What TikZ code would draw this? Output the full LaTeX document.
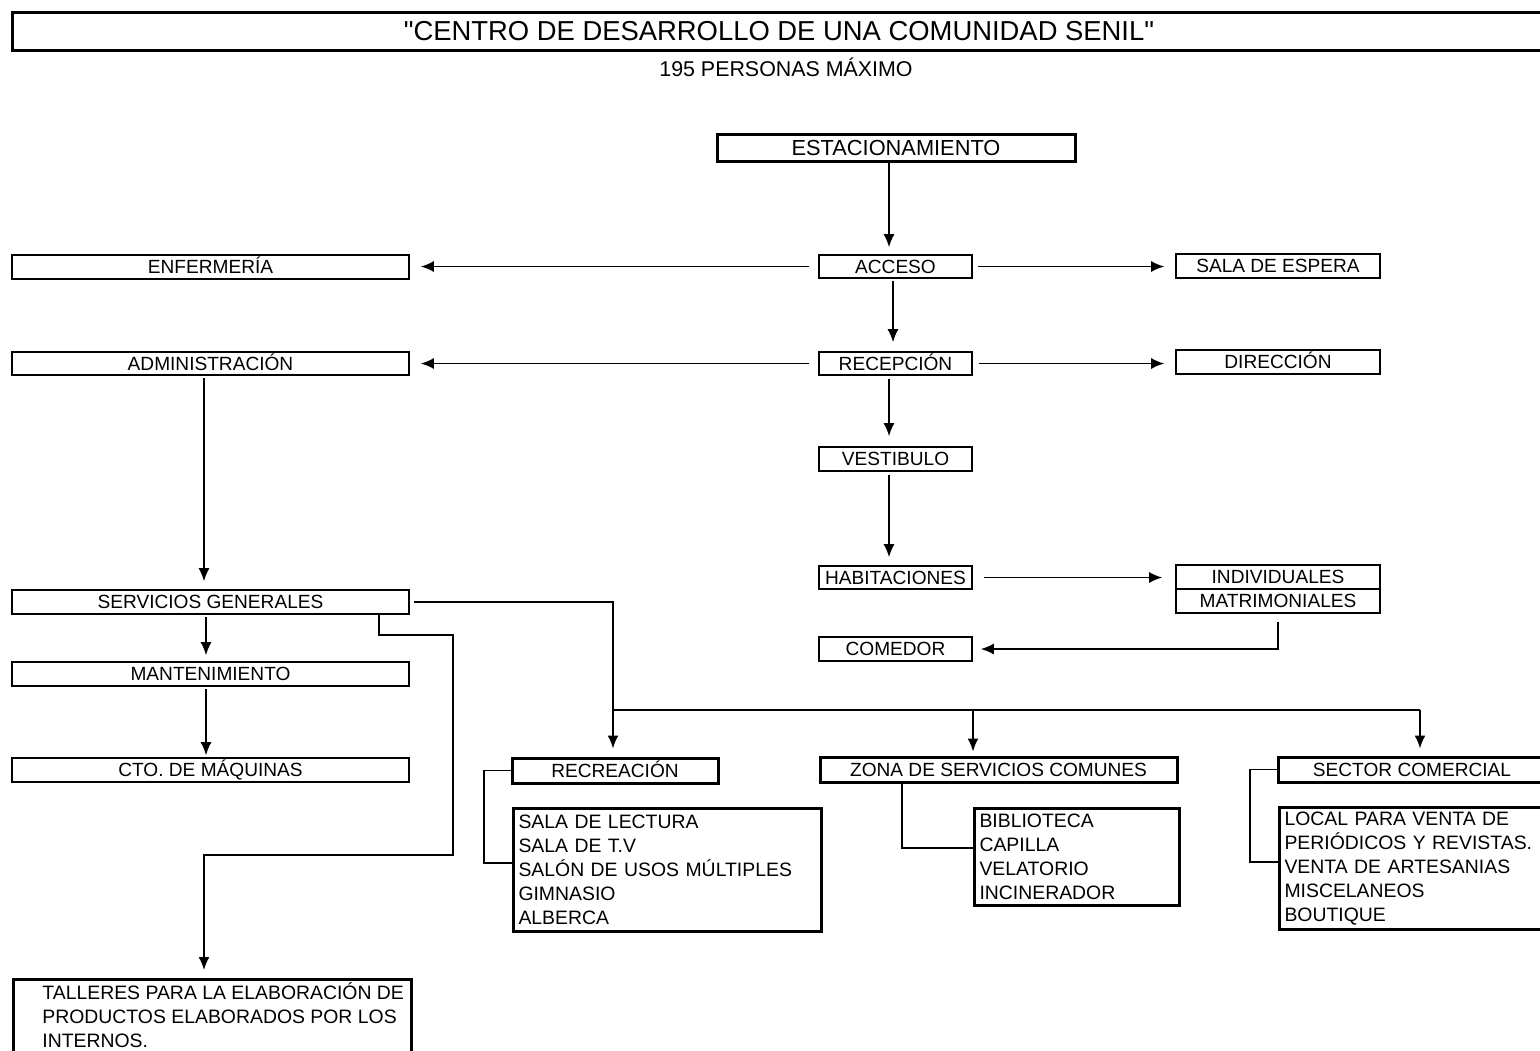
\documentclass[tikz,border=0pt]{standalone}
\usepackage{fontspec}
\setmainfont{Liberation Sans}
\usetikzlibrary{arrows.meta,calc}
\begin{document}
\begin{tikzpicture}[x=0.5pt,y=-0.5pt,
  thinbox/.style={draw,line width=0.8pt,inner sep=0pt,text height=6.8pt,text depth=0pt,font=\fontsize{9.55}{11}\selectfont},
  thickbox/.style={draw,line width=1.5pt,inner sep=0pt,text height=6.8pt,text depth=0pt,font=\fontsize{9.55}{11}\selectfont},
  listbox/.style={draw,line width=1.5pt,anchor=north west,align=left,inner xsep=2.5pt,inner ysep=0pt,font=\fontsize{9.7}{12}\selectfont},
  conn/.style={line width=0.85pt},
  arr/.style={conn,-{Latex[length=6.5pt,width=5.5pt]}}]
\useasboundingbox (0,0) rectangle (1540,1050);

% title
\node[draw,line width=1.5pt,inner sep=0pt,minimum width=767pt,minimum height=19pt,text height=9.8pt,text depth=0pt,font=\fontsize{13.7}{16}\selectfont] (title) at (779,31) {\textquotedbl CENTRO DE DESARROLLO DE UNA COMUNIDAD SENIL\textquotedbl};
\node[inner sep=0pt,text height=7.6pt,text depth=0pt,font=\fontsize{10.7}{13}\selectfont] (sub) at (786,69) {195 PERSONAS MÁXIMO};

% right column
\node[thickbox,minimum width=179pt,minimum height=13.5pt,text height=7.8pt,font=\fontsize{10.9}{13}\selectfont] (est) at (896,147.5) {ESTACIONAMIENTO};
\node[thinbox,minimum width=76.5pt,minimum height=11.5pt] (acc) at (895.5,266.5) {ACCESO};
\node[thinbox,minimum width=76.5pt,minimum height=11.5pt] (rec) at (895.5,363.5) {RECEPCIÓN};
\node[thinbox,minimum width=76.5pt,minimum height=12pt] (ves) at (895.5,459) {VESTIBULO};
\node[thinbox,minimum width=76.5pt,minimum height=11.5pt] (hab) at (895.5,577.5) {HABITACIONES};
\node[thinbox,minimum width=76.5pt,minimum height=12pt] (com) at (895.5,649) {COMEDOR};

\node[thinbox,minimum width=102pt,minimum height=12pt] (esp) at (1278,266) {SALA DE ESPERA};
\node[thinbox,minimum width=102pt,minimum height=12pt] (dir) at (1278,362) {DIRECCIÓN};
\node[thinbox,minimum width=102pt,minimum height=12pt] (ind) at (1278,577) {INDIVIDUALES};
\node[thinbox,minimum width=102pt,minimum height=12pt] (mat) at (1278,601) {MATRIMONIALES};

% left column
\node[thinbox,minimum width=198.5pt,minimum height=12pt] (enf) at (210.5,267) {ENFERMERÍA};
\node[thinbox,minimum width=198.5pt,minimum height=11.5pt] (adm) at (210.5,363.5) {ADMINISTRACIÓN};
\node[thinbox,minimum width=198.5pt,minimum height=12pt] (sg) at (210.5,602) {SERVICIOS GENERALES};
\node[thinbox,minimum width=198.5pt,minimum height=12pt] (man) at (210.5,674) {MANTENIMIENTO};
\node[thinbox,minimum width=198.5pt,minimum height=12pt] (cto) at (210.5,770) {CTO. DE MÁQUINAS};

\node[draw,line width=1.5pt,inner sep=0pt,anchor=north west,minimum width=199pt,minimum height=42pt] (tall) at (12,978) {};
\node[anchor=north west,align=left,inner sep=0pt,font=\fontsize{9.7}{12}\selectfont] (talltxt) at (42,982) {TALLERES PARA LA ELABORACIÓN DE\\PRODUCTOS ELABORADOS POR LOS\\INTERNOS.};

% bottom groups
\node[thickbox,minimum width=103pt,minimum height=12.5pt] (recr) at (615,770.5) {RECREACIÓN};
\node[thickbox,minimum width=178.5pt,minimum height=12.5pt] (zona) at (998.5,769.5) {ZONA DE SERVICIOS COMUNES};
\node[thickbox,minimum width=134pt,minimum height=12.5pt] (sec) at (1412,769.5) {SECTOR COMERCIAL};

\node[listbox,text width=149pt,minimum height=61.5pt] (recl) at (512,807) {SALA DE LECTURA\\SALA DE T.V\\SALÓN DE USOS MÚLTIPLES\\GIMNASIO\\ALBERCA};
\node[listbox,text width=97.5pt,minimum height=48.5pt] (bib) at (973,807) {BIBLIOTECA\\CAPILLA\\VELATORIO\\INCINERADOR};
\node[listbox,text width=131pt,minimum height=61pt] (secl) at (1278,806) {LOCAL PARA VENTA DE\\PERIÓDICOS Y REVISTAS.\\VENTA DE ARTESANIAS\\MISCELANEOS\\BOUTIQUE};

% helper coordinates
\coordinate (sx) at (889,0);
\coordinate (sx2) at (893,0);
\coordinate (lx) at (204,0);
\coordinate (lx2) at (206,0);
\coordinate (bx) at (613,0);
\coordinate (b1) at (613,710);
\coordinate (b2) at (973,710);
\coordinate (b3) at (1420,710);
\coordinate (t1) at (379,635);
\coordinate (t2) at (453,855);
\coordinate (rl) at (484,863);
\coordinate (zl) at (902,848);
\coordinate (sl) at (1250,862);

% spine
\draw[arr,shorten >=3.5pt] (est.south -| sx) -- (acc.north -| sx);
\draw[arr,shorten <=1pt,shorten >=4.5pt] (acc.south -| sx2) -- (rec.north -| sx2);
\draw[arr,shorten <=1.5pt,shorten >=5pt] (rec.south -| sx) -- (ves.north -| sx);
\draw[arr,shorten <=1.5pt,shorten >=4pt] (ves.south -| sx) -- (hab.north -| sx);

% horizontals
\draw[arr,shorten <=4.5pt,shorten >=5.5pt] (acc.west) -- (enf.east |- acc.west);
\draw[arr,shorten <=2.5pt,shorten >=5.5pt] (acc.east) -- (esp.west |- acc.east);
\draw[arr,shorten <=4.5pt,shorten >=5.5pt] (rec.west) -- (adm.east |- rec.west);
\draw[arr,shorten <=3pt,shorten >=5.5pt] (rec.east) -- (dir.west |- rec.east);
\draw[arr,shorten <=5.5pt,shorten >=6.5pt] (hab.east) -- (ind.west |- hab.east);
\draw[arr,shorten <=4pt,shorten >=4pt] (mat.south) |- (com.east);

% left column
\draw[arr,shorten <=1pt,shorten >=4pt] (adm.south -| lx) -- (sg.north -| lx);
\draw[arr,shorten <=1pt,shorten >=3pt] (sg.south -| lx2) -- (man.north -| lx2);
\draw[arr,shorten <=1pt,shorten >=1pt] (man.south -| lx2) -- (cto.north -| lx2);

% services
\draw[arr,shorten <=2pt,shorten >=4pt] (sg.east) -| (recr.north -| bx);
\draw[conn] (b1) -- (b3);
\draw[arr,shorten >=2pt] (b2) -- (zona.north -| b2);
\draw[arr,shorten >=3.5pt] (b3) -- (sec.north -| b3);
\draw[arr,shorten >=4pt] (sg.south -| t1) -- (t1) -| (t2) -| (tall.north -| lx);

% group links
\draw[conn] (recr.west) -| (rl) -- (rl -| recl.west);
\draw[conn] (zona.south -| zl) -- (zl) -- (zl -| bib.west);
\draw[conn] (sec.west) -| (sl) -- (sl -| secl.west);
\end{tikzpicture}
\end{document}
